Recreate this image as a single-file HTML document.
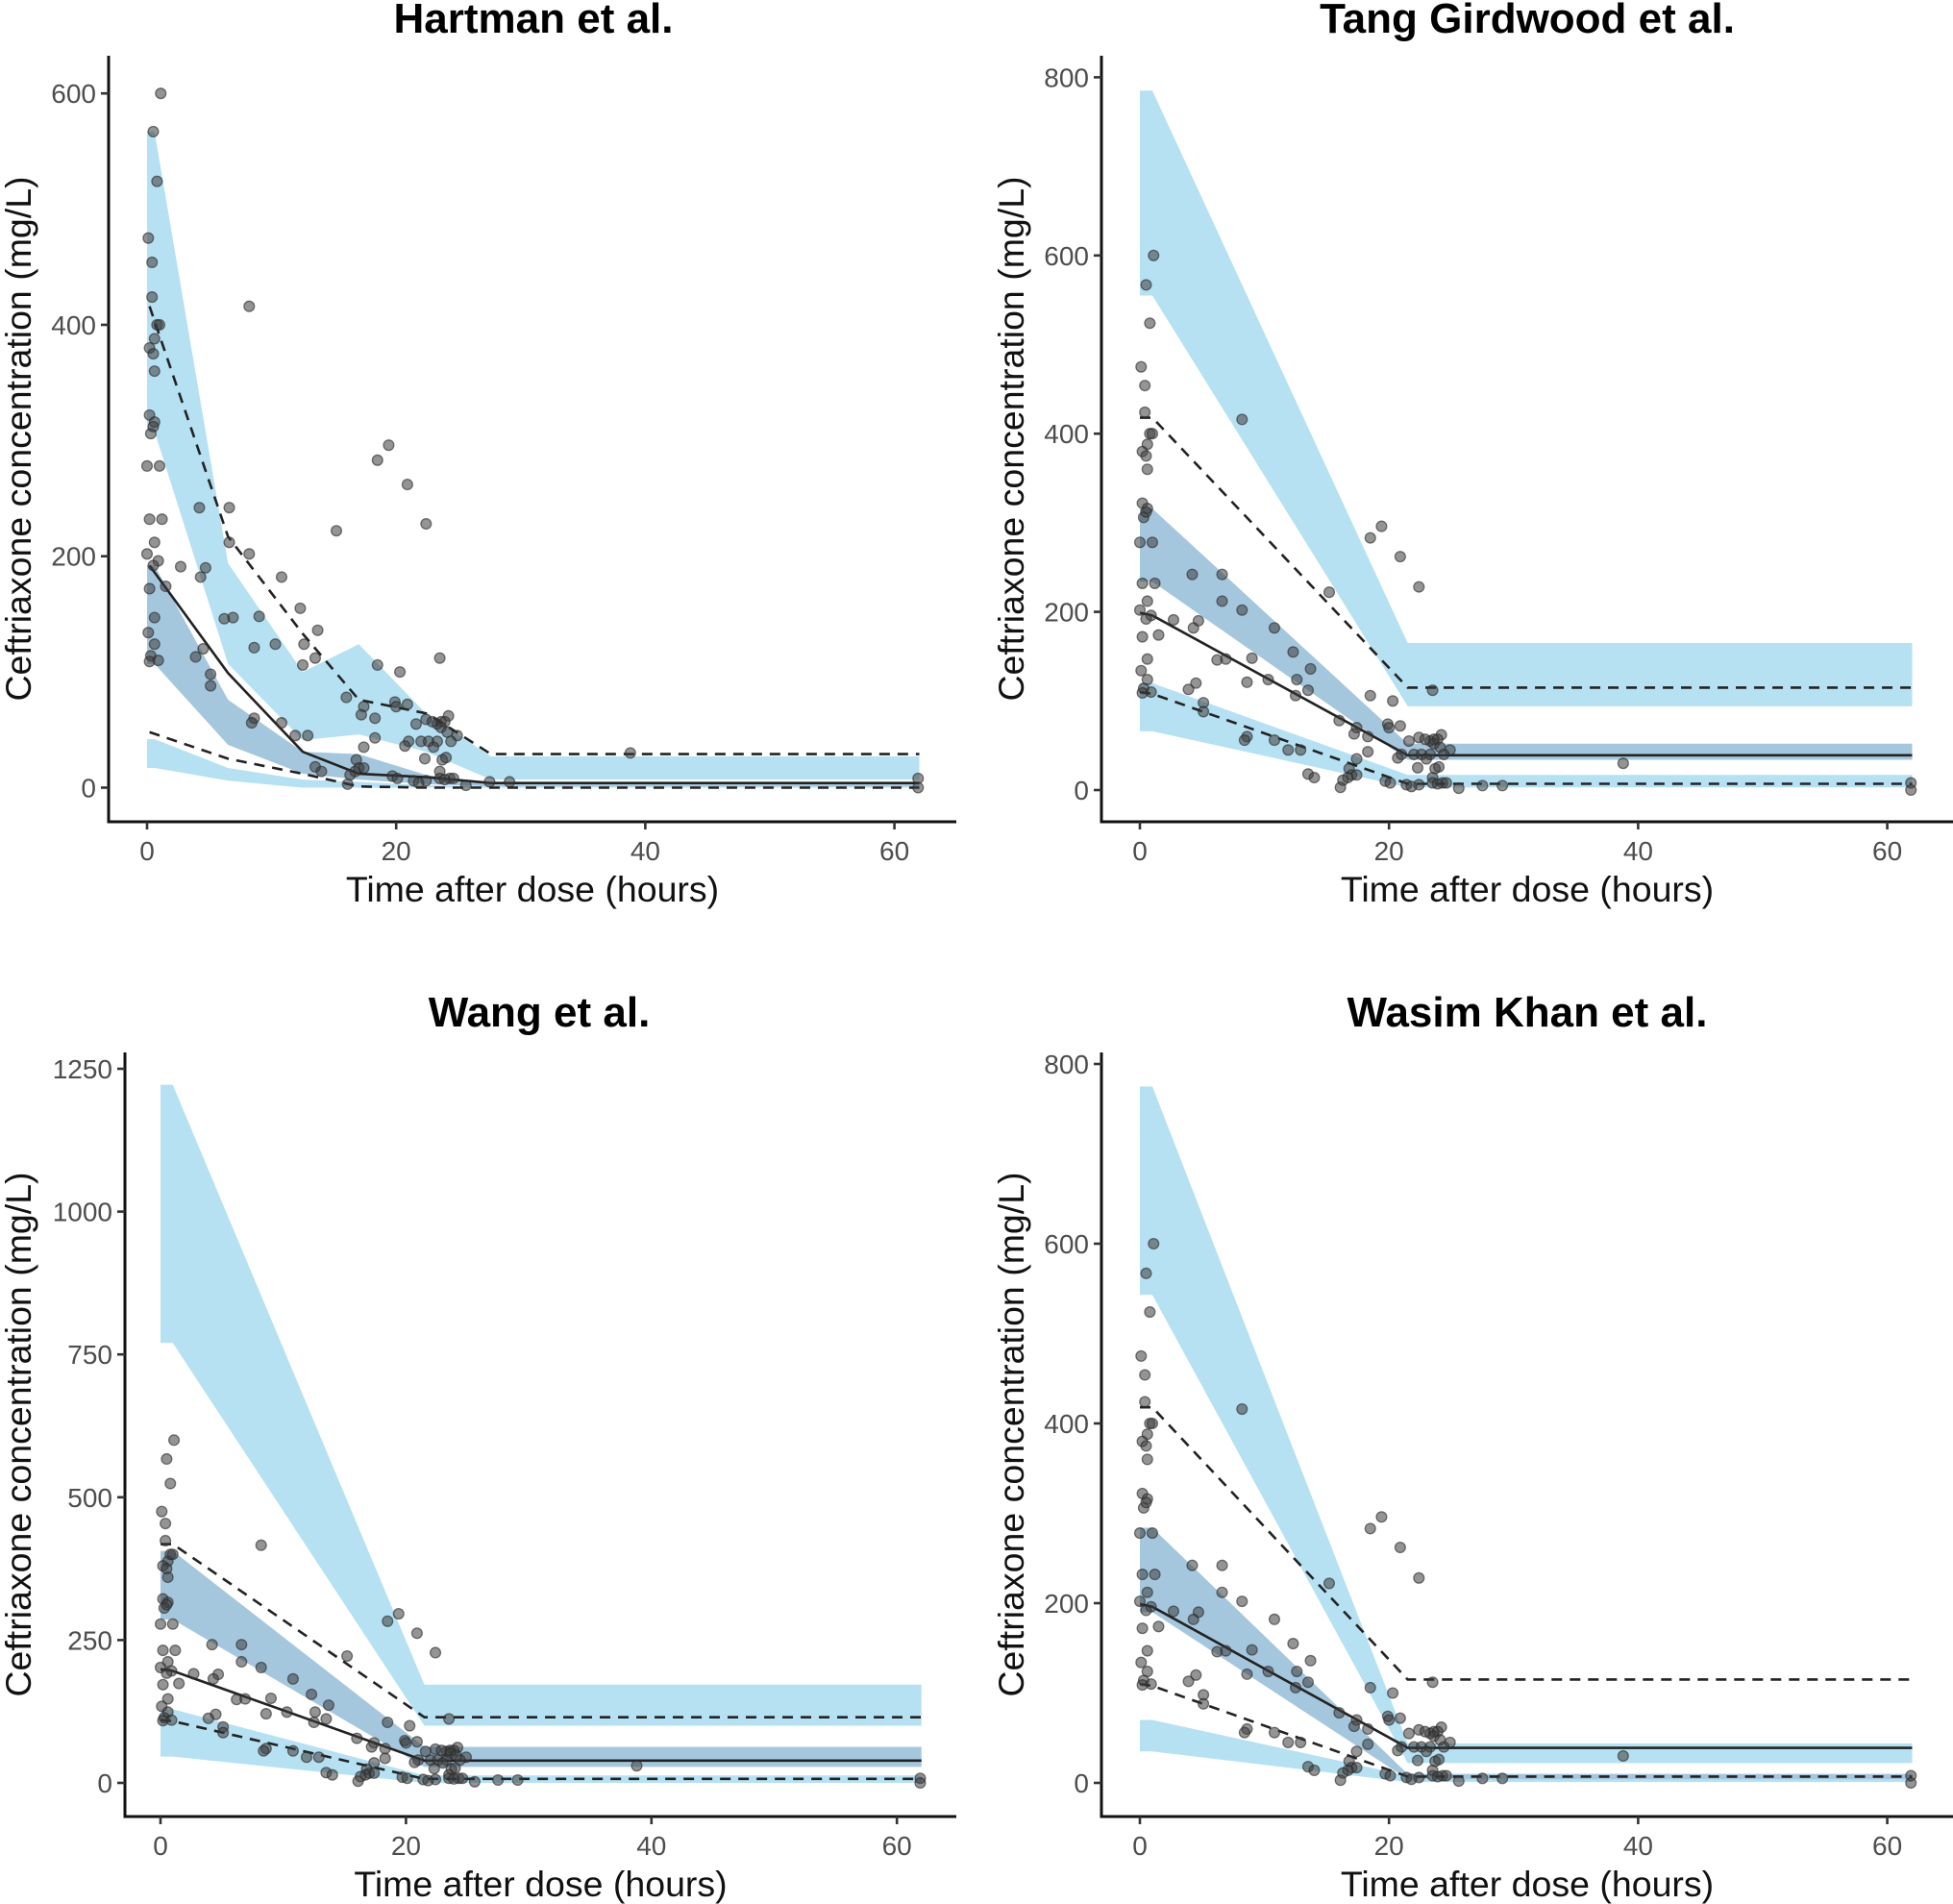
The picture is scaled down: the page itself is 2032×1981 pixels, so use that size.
<!DOCTYPE html>
<html><head><meta charset="utf-8"><style>
html,body{margin:0;padding:0;background:#fff}
svg{display:block}
text{font-family:"Liberation Sans",Arial,sans-serif}
</style></head><body>
<svg id="chart" width="2032" height="1981" viewBox="0 0 2032 1981" xmlns="http://www.w3.org/2000/svg"></svg>
<script>
// Observed data (shared)
const obsT = [1.1,0.5,0.8,0.1,0.4,0.4,8.2,0.6,0.8,1,0.2,0.5,0.6,0.2,0.6,0.3,0.5,19.4,18.5,0,1,20.9,22.4,15.2,0.2,1.2,4.2,6.6,0.6,6.6,0,8.2,0.9,0.5,2.7,4.7,4.3,10.8,1.5,0.2,12.3,0.6,6.2,6.9,9,13.7,0.1,0.6,10.3,12.6,8.6,4.5,3.9,13.5,0.3,0.2,0.9,23.5,12.5,18.5,20.3,5.1,5.1,16,19.9,20,20.9,17.4,17.2,18.3,22.4,24.2,21.6,23.3,23.6,23.9,22.9,8.6,8.4,10.8,23.6,24.1,18.3,11.9,12.9,24.9,22,22.6,23.3,24.4,21,20.7,17.4,23,13.5,14,16.8,23.7,24,22.3,17,17.4,16.7,23.5,16.3,19.7,20.1,23.5,24.3,24.6,21.4,22.4,23.9,16.1,21.8,25.6,27.5,29.1,61.9,38.8,61.9];
const obsC = [600,567,524,475,454,424,416,388,400,400,380,375,360,322,316,306,312,296,283,278,278,262,228,222,232,232,242,242,212,212,202,202,196,192,191,190,182,182,174,172,155,147,146,147,148,136,134,124,124,124,121,120,113,112,114,109,110,112,106,106,100,98,88,78,74,70,72,70,63,60,59,62,55,55,57,57,57,60,56,56,52,48,43,45,45,45,40,40,40,40,40,36,35,35,18,14,24,24,26,25,17,17,14,14,11,10,8,8,8,8,6,6,7,3,4,2,5,5,8,30,0];

// Hartman
const hartBandX = [0,0.6,6.5,12.5,17,22.4,27.6,62];
const hartUpHi = [567,567,194,100,124,64,27,27];
const hartUpLo = [308,308,107,41,46,31,7,7];
const hartMedHi = [192,192,76,31,29,11,3,3];
const hartMedLo = [107,107,37,12,7,3,1,1];
const hartLowHi = [42,42,17,7,5,2,1,1];
const hartLowLo = [17,17,6,0,0,0,0,0];
const hartObsX = [0.2,6.5,12.5,17,22.5,27.6,62];
const hartObsMed = [192,99,31,12,9,4,4];
const hartObsHi = [416,217,133,76,64,29,29];
const hartObsLo = [48,25,12,1,0,0,0];

// Common bins for other panels
const binX = [0,1,21.5,62];
const obsMed = [199,196,39,39];
const obsHi = [418,418,115,115];
const obsLo = [110,108,7,7];

// Tang Girdwood
const tangUpHi = [785,785,165,165], tangUpLo = [555,555,94,94];
const tangMedHi = [316,316,52,52], tangMedLo = [234,234,34,34];
const tangLowHi = [120,120,17,17], tangLowLo = [66,66,3,3];
// Wang
const wangUpHi = [1222,1222,172,172], wangUpLo = [770,770,100,100];
const wangMedHi = [406,406,63,63], wangMedLo = [286,286,28,28];
const wangLowHi = [129,129,13,13], wangLowLo = [46,46,0,0];
// Wasim Khan
const wasUpHi = [775,775,44,44], wasUpLo = [543,543,22,22];
const wasMedHi = [284,284,10,10], wasMedLo = [190,190,4,4];
const wasLowHi = [70,70,8,8], wasLowLo = [35,35,1,1];

const xTicks = [0,20,40,60];
const yTicks1 = [0,200,400,600];
const yTicks2 = [0,200,400,600,800];
const yTicks3 = [0,250,500,750,1000,1250];

const NS = "http://www.w3.org/2000/svg";
const svg = document.getElementById('chart');
function mk(tag, attrs, parent){const e=document.createElementNS(NS,tag);for(const k in attrs)e.setAttribute(k,attrs[k]);(parent||svg).appendChild(e);return e;}

const panels = [
 {key:'hartman',title:'Hartman et al.',ax:113,axB:855,axT:58,axR:995,x0:153,xs:12.96,y0:819.5,ys:(819.5-97.2)/600,yt:yTicks1,titleX:555,titleY:34,ytX:19,
  bx:hartBandX,up:[hartUpHi,hartUpLo],med:[hartMedHi,hartMedLo],low:[hartLowHi,hartLowLo],ox:hartObsX,om:hartObsMed,oh:hartObsHi,ol:hartObsLo},
 {key:'tang',title:'Tang Girdwood et al.',ax:1146,axB:855,axT:58,axR:2032,x0:1186,xs:12.96,y0:822,ys:(822-80.4)/800,yt:yTicks2,titleX:1589,titleY:34,ytX:1052,
  bx:binX,up:[tangUpHi,tangUpLo],med:[tangMedHi,tangMedLo],low:[tangLowHi,tangLowLo],ox:binX,om:obsMed,oh:obsHi,ol:obsLo},
 {key:'wang',title:'Wang et al.',ax:130,axB:1890,axT:1095,axR:995,x0:167,xs:12.77,y0:1855,ys:(1855-1112)/1250,yt:yTicks3,titleX:561,titleY:1068,ytX:19,
  bx:binX,up:[wangUpHi,wangUpLo],med:[wangMedHi,wangMedLo],low:[wangLowHi,wangLowLo],ox:binX,om:obsMed,oh:obsHi,ol:obsLo},
 {key:'wasim-khan',title:'Wasim Khan et al.',ax:1146,axB:1890,axT:1095,axR:2032,x0:1186,xs:12.96,y0:1855,ys:(1855-1107)/800,yt:yTicks2,titleX:1589,titleY:1068,ytX:1052,
  bx:binX,up:[wasUpHi,wasUpLo],med:[wasMedHi,wasMedLo],low:[wasLowHi,wasLowLo],ox:binX,om:obsMed,oh:obsHi,ol:obsLo}
];

panels.forEach(p=>{
  const g = mk('g',{});
  
  
  const X = t=>p.x0+t*p.xs, Y = v=>p.y0-v*p.ys;
  function band(hi,lo,fill,name){
    let d='M'+p.bx.map((t,i)=>X(t)+','+Y(hi[i])).join('L');
    for(let i=p.bx.length-1;i>=0;i--) d+='L'+X(p.bx[i])+','+Y(lo[i]);
    const e=mk('path',{d:d+'Z',fill:fill},g);
    
    
  }
  band(p.up[0],p.up[1],'#b6e1f2','upper-prediction-band');
  band(p.low[0],p.low[1],'#b6e1f2','lower-prediction-band');
  band(p.med[0],p.med[1],'#a5c7de','median-prediction-band');
  function line(vals,dash,name){
    const e=mk('polyline',{points:p.ox.map((t,i)=>X(t)+','+Y(vals[i])).join(' '),fill:'none',stroke:'#222',
      'stroke-width':2.6,'stroke-dasharray':dash},g);
    
    
  }
  line(p.oh,'11 8','observed-95th-line');
  line(p.ol,'11 8','observed-5th-line');
  line(p.om,'none','observed-median-line');
  obsT.forEach((t,i)=>{
    const c=mk('circle',{cx:X(t),cy:Y(obsC[i]),r:5.4,fill:'rgba(60,60,60,0.55)',stroke:'rgba(40,40,40,0.6)','stroke-width':1.3},g);
    
    
  });
  const ya=mk('line',{x1:p.ax,y1:p.axT,x2:p.ax,y2:p.axB+1.5,stroke:'#111','stroke-width':3},g);
  
  
  const xa=mk('line',{x1:p.ax-1.5,y1:p.axB,x2:p.axR,y2:p.axB,stroke:'#111','stroke-width':3},g);
  
  
  xTicks.forEach(t=>{
    mk('line',{x1:X(t),y1:p.axB,x2:X(t),y2:p.axB+8,stroke:'#333','stroke-width':2.6},g);
    const tx=mk('text',{x:X(t),y:p.axB+40,'text-anchor':'middle','font-size':28,fill:'#4d4d4d'},g);
    tx.textContent=t;
    
    
  });
  p.yt.forEach(v=>{
    mk('line',{x1:p.ax-8,y1:Y(v),x2:p.ax,y2:Y(v),stroke:'#333','stroke-width':2.6},g);
    const tx=mk('text',{x:p.ax-13,y:Y(v)+10,'text-anchor':'end','font-size':28,fill:'#4d4d4d'},g);
    tx.textContent=v;
    
    
  });
  const xt=mk('text',{x:(p.ax+p.axR)/2,y:p.axB+83,'text-anchor':'middle','font-size':37.5,fill:'#111'},g);
  xt.textContent='Time after dose (hours)';
  
  
  const yc=(p.axT+p.axB)/2;
  const yt=mk('text',{x:p.ytX,y:yc,'text-anchor':'middle','font-size':37.5,fill:'#111',transform:'rotate(-90 '+p.ytX+' '+yc+') translate(0 13)'},g);
  yt.textContent='Ceftriaxone concentration (mg/L)';
  
  
  const tt=mk('text',{x:p.titleX,y:p.titleY,'text-anchor':'middle','font-size':44,'font-weight':'bold',fill:'#000'},g);
  tt.textContent=p.title;
  
  
});
</script>
</body></html>
